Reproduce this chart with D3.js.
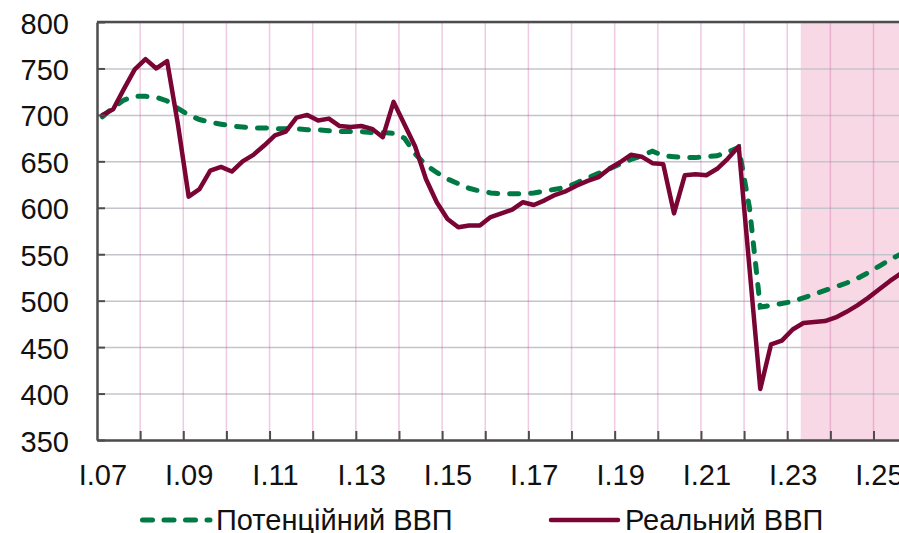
<!DOCTYPE html>
<html>
<head>
<meta charset="utf-8">
<script src="https://cdn.jsdelivr.net/npm/d3@7/dist/d3.min.js"></script>
<style>
  body { margin: 0; background: #fff; }
  text { font-family: Arial, "Liberation Sans", sans-serif; fill: #111; }
</style>
</head>
<body>
<div id="chart"></div>
<script>
// years and quarter names used to build the category axis (I.07 ... IV.26)
var years = ["07","08","09","10","11","12","13","14","15","16","17","18","19","20","21","22","23","24","25","26"];
var quarterNames = ["I","II","III","IV"];
var quarters = [];
years.forEach(function(yy) {
  quarterNames.forEach(function(q) { quarters.push(q + "." + yy); });
});

// labels shown under the x axis
var tickLabels = ["I.07","I.09","I.11","I.13","I.15","I.17","I.19","I.21","I.23","I.25"];
var yTicks = [350, 400, 450, 500, 550, 600, 650, 700, 750, 800];

// first quarter of the forecast (shaded)
var forecastFrom = "II.23";

// Потенційний ВВП, I.07 - III.25
var potential = [
  698, 708, 716, 720,
  720, 719, 715, 707,
  700, 695, 692, 690,
  688, 687, 686, 686,
  685, 685, 685, 684,
  684, 683, 682, 682,
  682, 681, 681, 680,
  675, 658, 646, 638,
  631, 626, 621, 618,
  616, 615, 615, 615,
  616, 618, 620, 622,
  627, 632, 637, 642,
  647, 652, 656, 661,
  656, 655, 654, 654,
  655, 656, 660, 665,
  600, 493, 495, 497,
  499, 503, 507, 511,
  515, 519, 524, 530,
  537, 544, 550
];

// Реальний ВВП, I.07 - III.25
var real = [
  700, 706, 728, 749,
  760, 750, 758, 690,
  612, 620, 640, 644,
  639, 650, 657, 667,
  678, 682, 697, 700,
  694, 696, 688, 687,
  688, 685, 676, 714,
  690, 666, 631, 606,
  588, 579, 581, 581,
  590, 594, 598, 606,
  603, 608, 614, 618,
  624, 629, 633, 642,
  649, 657, 655, 648,
  647, 594, 635, 636,
  635, 642, 653, 666,
  535, 405, 453, 457,
  469, 476, 477, 478,
  482, 488, 495, 503,
  512, 521, 529
];

var legendItems = ["Потенційний ВВП", "Реальний ВВП"];

// set the dimensions and margins of the graph
var margin = {top: 22, left: 97},
    qWidth = 10.785,
    width = quarters.length * qWidth,
    height = 418;

var x = d3.scaleLinear().domain([0, quarters.length]).range([0, width]);
var y = d3.scaleLinear().domain([350, 800]).range([height, 0]);

var root = d3.select("#chart").append("svg")
    .attr("width", 899)
    .attr("height", 533);

var svg = root.append("g")
    .attr("transform", "translate(" + margin.left + "," + margin.top + ")");

// forecast shading
var fStart = quarters.indexOf(forecastFrom) + 0.25;
svg.append("rect")
    .attr("x", x(fStart))
    .attr("y", 0)
    .attr("width", x(quarters.length) - x(fStart))
    .attr("height", height)
    .style("fill", "#f9d8e6");

// horizontal grid
svg.append("g")
    .call(d3.axisLeft(y).tickValues(yTicks).tickSize(-width).tickFormat(""))
    .call(function(g) { g.select(".domain").remove(); })
    .selectAll("line")
      .style("stroke", "#c4c4cc")
      .style("stroke-width", 1.5);

// vertical grid, one line per year
var yearStarts = d3.range(4, quarters.length, 4);
svg.append("g")
    .selectAll("line")
    .data(yearStarts)
    .enter()
    .append("line")
      .attr("x1", function(d) { return x(d); })
      .attr("x2", function(d) { return x(d); })
      .attr("y1", 0)
      .attr("y2", height)
      .style("stroke", "rgba(205, 90, 165, 0.32)")
      .style("stroke-width", 1.5);

var line = d3.line()
    .x(function(d, i) { return x(i + 0.5); })
    .y(function(d) { return y(d); });

// potential GDP, dashed
svg.append("path")
    .datum(potential)
    .attr("d", line)
    .style("fill", "none")
    .style("stroke", "#007a45")
    .style("stroke-width", 5)
    .style("stroke-dasharray", "9,12")
    .style("stroke-linecap", "round");

// real GDP
svg.append("path")
    .datum(real)
    .attr("d", line)
    .style("fill", "none")
    .style("stroke", "#7a0434")
    .style("stroke-width", 4.5)
    .style("stroke-linejoin", "round")
    .style("stroke-linecap", "round");

// top border
svg.append("line")
    .attr("x1", 0).attr("x2", width)
    .attr("y1", 0).attr("y2", 0)
    .style("stroke", "#4d4d4d")
    .style("stroke-width", 2.5);

// y axis
var yAxis = svg.append("g")
    .call(d3.axisLeft(y).tickValues(yTicks).tickSize(-8).tickSizeOuter(0).tickPadding(28));
yAxis.selectAll("text").style("font-size", "29px").attr("dy", "0.38em");

// x axis tick marks at year boundaries
var xAxis = svg.append("g")
    .attr("transform", "translate(0," + height + ")")
    .call(d3.axisBottom(x).tickValues(yearStarts).tickSize(-9).tickSizeOuter(0).tickFormat(""));

// x axis labels, centred on the first quarter
svg.append("g")
    .attr("transform", "translate(0," + height + ")")
    .call(d3.axisBottom(x)
      .tickValues(tickLabels.map(function(d) { return quarters.indexOf(d) + 0.5; }))
      .tickSize(0)
      .tickPadding(24)
      .tickFormat(function(d) { return quarters[Math.floor(d)]; }))
    .call(function(g) { g.select(".domain").remove(); })
    .selectAll("text").style("font-size", "29px");

[yAxis, xAxis].forEach(function(a) {
  a.select(".domain").style("stroke", "#4d4d4d").style("stroke-width", 2.5);
  a.selectAll(".tick line").style("stroke", "#4d4d4d").style("stroke-width", 2);
});

// legend
var legend = root.append("g");
var legendX = [140, 549];

legend.append("line")
    .attr("x1", legendX[0] + 2.5).attr("x2", legendX[0] + 70)
    .attr("y1", 520).attr("y2", 520)
    .style("stroke", "#007a45")
    .style("stroke-width", 5)
    .style("stroke-dasharray", "10,11.5")
    .style("stroke-linecap", "round");

legend.append("line")
    .attr("x1", legendX[1] + 2).attr("x2", legendX[1] + 69)
    .attr("y1", 520).attr("y2", 520)
    .style("stroke", "#7a0434")
    .style("stroke-width", 4.5)
    .style("stroke-linecap", "round");

legend.selectAll("text.item")
    .data(legendItems)
    .enter()
    .append("text")
      .attr("class", "item")
      .attr("x", function(d, i) { return legendX[i] + 76; })
      .attr("y", 530)
      .style("font-size", "29px")
      .text(function(d) { return d; });
</script>
</body>
</html>
